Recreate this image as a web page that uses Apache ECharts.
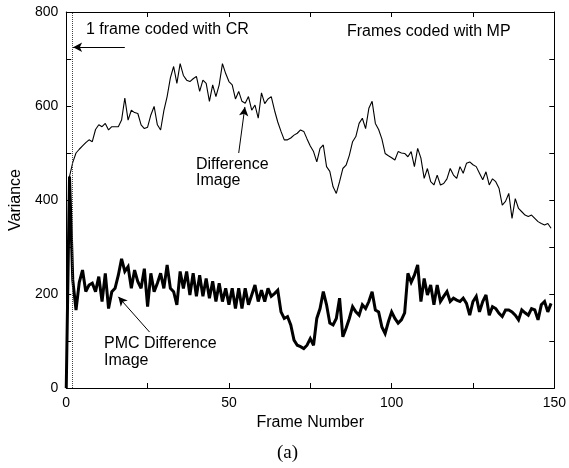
<!DOCTYPE html>
<html>
<head>
<meta charset="utf-8">
<script src="https://cdn.jsdelivr.net/npm/echarts@6/dist/echarts.min.js"></script>
<style>
html,body{margin:0;padding:0;background:#fff;}
#chart{width:569px;height:468px;}
</style>
</head>
<body>
<div id="chart"></div>
<script>
const frameStart = 0;
const crFrameBoundary = 1.8;
const diffImage = [
  0, 450, 480, 500, 508, 515, 522, 528, 524, 550,
  560, 556, 563, 549, 556, 556, 556, 570, 617, 570,
  591, 586, 584, 560, 552, 555, 581, 599, 560, 549,
  590, 620, 660, 684, 648, 690, 665, 655, 652, 658,
  663, 631, 655, 648, 610, 645, 620, 645, 690, 669,
  652, 645, 615, 631, 610, 606, 620, 591, 602, 574,
  628, 605, 615, 620, 591, 566, 546, 528, 528, 532,
  538, 542, 549, 546, 530, 515, 503, 481, 510, 517,
  471, 461, 428, 414, 439, 467, 474, 495, 524, 535,
  563, 574, 552, 595, 610, 563, 550, 530, 499, 494,
  490, 485, 503, 500, 499, 492, 503, 471, 510, 489,
  446, 467, 439, 432, 453, 432, 435, 445, 467, 453,
  446, 471, 457, 478, 481, 475, 471, 457, 443, 460,
  432, 445, 439, 425, 389, 397, 414, 361, 403, 382,
  375, 368, 365, 368, 361, 354, 350, 347, 350, 340
];
const pmcDiff = [
  0, 450, 230, 166, 225, 251, 205, 219, 223, 205,
  237, 184, 244, 169, 205, 212, 240, 275, 248, 258,
  212, 251, 226, 212, 254, 173, 244, 205, 223, 244,
  212, 262, 212, 205, 177, 248, 212, 248, 198, 244,
  195, 240, 195, 233, 191, 227, 184, 223, 184, 212,
  177, 212, 169, 212, 169, 212, 177, 198, 219, 184,
  208, 184, 212, 195, 201, 208, 162, 148, 152, 134,
  102, 91, 88, 84, 91, 105, 91, 148, 169, 205,
  177, 138, 134, 148, 191, 109, 127, 148, 173, 162,
  155, 177, 169, 184, 205, 166, 162, 130, 116, 141,
  162, 148, 138, 145, 160, 244, 225, 240, 262, 184,
  233, 198, 219, 177, 219, 184, 195, 205, 184, 191,
  187, 184, 191, 180, 155, 184, 195, 162, 184, 198,
  155, 173, 169, 159, 152, 166, 166, 162, 155, 145,
  166, 160, 155, 169, 166, 145, 177, 184, 162, 180
];
const xTickLabels = [0, 50, 100, 150];
const yTickLabels = [0, 200, 400, 600, 800];
// annotation arrows in data coordinates [frame, variance]
const crArrow = [[18, 725], [2.1, 725]];
const diffArrow = [[53.0, 500], [54.9, 598]];
const pmcArrow = [[25.6, 119], [16.0, 194]];

const FONT = '"Liberation Sans", Arial, Helvetica, sans-serif';
const chart = echarts.init(document.getElementById('chart'), null, {renderer: 'canvas'});

function baseAxis(extra) {
  return Object.assign({
    type: 'value',
    axisLine: {show: true, onZero: false, lineStyle: {color: '#000', width: 1}},
    axisTick: {show: true, inside: true, length: 5, lineStyle: {color: '#000', width: 1}},
    splitLine: {show: false},
  }, extra);
}
const arrowLine = (a) => [{coord: a[0], symbol: 'none'}, {coord: a[1], symbol: 'arrow'}];

const option = {
  animation: false,
  backgroundColor: '#fff',
  grid: {left: 63, right: 14, top: 12, bottom: 80},
  xAxis: [
    baseAxis({
      position: 'bottom', min: 0, max: 150, interval: 25,
      axisLabel: {
        color: '#000', fontSize: 14, fontFamily: FONT, margin: 8,
        formatter: v => xTickLabels.indexOf(v) >= 0 ? String(v) : ''
      },
      name: 'Frame Number', nameLocation: 'middle', nameGap: 25,
      nameTextStyle: {color: '#000', fontSize: 16, fontFamily: FONT}
    }),
    baseAxis({position: 'top', min: 0, max: 150, interval: 25, axisLabel: {show: false}})
  ],
  yAxis: [
    baseAxis({
      position: 'left', min: 0, max: 800, interval: 100,
      axisLabel: {
        color: '#000', fontSize: 14, fontFamily: FONT, margin: 8,
        formatter: v => yTickLabels.indexOf(v) >= 0 ? String(v) : ''
      },
      name: 'Variance', nameLocation: 'middle', nameGap: 41,
      nameTextStyle: {color: '#000', fontSize: 16, fontFamily: FONT}
    }),
    baseAxis({position: 'right', min: 0, max: 800, interval: 100, axisLabel: {show: false}})
  ],
  series: [
    {
      name: 'Difference Image', type: 'line', xAxisIndex: 0, yAxisIndex: 0,
      data: diffImage.map((v, i) => [frameStart + i, v]),
      showSymbol: false, symbol: 'none',
      lineStyle: {color: '#000', width: 1.1},
      markLine: {
        silent: true, symbolSize: [7, 9], animation: false,
        label: {show: false},
        lineStyle: {color: '#000', width: 1, type: 'solid'},
        data: [arrowLine(crArrow), arrowLine(diffArrow), arrowLine(pmcArrow)]
      }
    },
    {
      name: 'PMC Difference Image', type: 'line', xAxisIndex: 0, yAxisIndex: 0,
      data: pmcDiff.map((v, i) => [frameStart + i, v]),
      showSymbol: false, symbol: 'none',
      lineStyle: {color: '#000', width: 3, join: 'miter', miterLimit: 3},
      markLine: {
        silent: true, symbol: 'none', animation: false,
        label: {show: false},
        lineStyle: {color: '#444', width: 1, type: [1, 1]},
        data: [{xAxis: crFrameBoundary}]
      }
    }
  ],
  graphic: [
    {type: 'text', left: 86, top: 22, style: {text: '1 frame coded with CR', fill: '#000', font: '16px ' + FONT}},
    {type: 'text', left: 347, top: 24, style: {text: 'Frames coded with MP', fill: '#000', font: '16px ' + FONT}},
    {type: 'text', left: 196, top: 157, style: {text: 'Difference\nImage', fill: '#000', font: '16px ' + FONT, lineHeight: 16}},
    {type: 'text', left: 104, top: 335, style: {text: 'PMC Difference\nImage', fill: '#000', font: '16px ' + FONT, lineHeight: 17}},
    {type: 'text', left: 277, top: 444, style: {text: '(a)', fill: '#000', font: '19px "Liberation Serif", "Times New Roman", serif'}}
  ]
};
chart.setOption(option);
</script>
</body>
</html>
